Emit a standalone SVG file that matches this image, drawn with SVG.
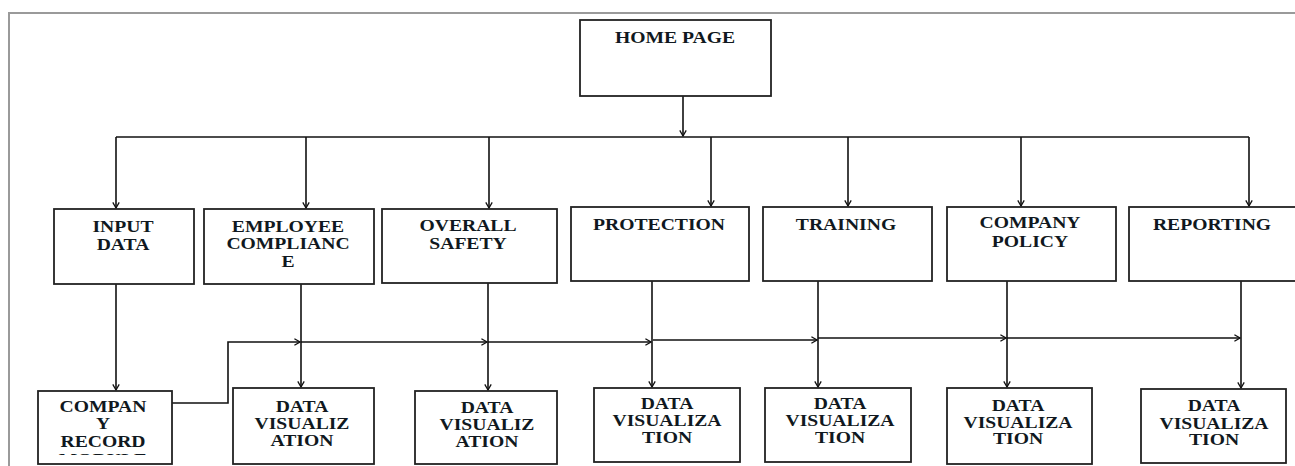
<svg xmlns="http://www.w3.org/2000/svg" width="1295" height="466" viewBox="0 0 1295 466">
  <style>
    .frame { fill: none; stroke: #9a9a9a; stroke-width: 2; }
    .box { fill: #ffffff; stroke: #222222; stroke-width: 1.8; }
    .wire { fill: none; stroke: #111111; stroke-width: 1.6; }
    .arrow { fill: none; stroke: #111111; stroke-width: 1.6; marker-end: url(#head); }
    .lbl { font-family: "Liberation Serif", "Times New Roman", serif; font-weight: bold; font-size: 16.5px; fill: #101820; text-anchor: middle; }
  </style>
  <defs>
    <marker id="head" viewBox="0 0 10 10" refX="9" refY="5" markerWidth="8" markerHeight="8" markerUnits="userSpaceOnUse" orient="auto">
      <path d="M2,1 L9,5 L2,9" fill="none" stroke="#111111" stroke-width="1.6"/>
    </marker>
    <clipPath id="recordClip">
      <rect x="38" y="391" width="134" height="64"/>
    </clipPath>
  </defs>

  <rect width="1295" height="466" fill="#ffffff"/>

  <!-- page frame -->
  <path class="frame" d="M9 466 V13 H1295"/>

  <!-- connectors -->
  <g id="connectors">
    <path class="arrow" d="M683 96 V136"/>
    <path class="wire" d="M116 137 H1249"/>
    <path class="arrow" d="M116 137 V208"/>
    <path class="arrow" d="M306 137 V208"/>
    <path class="arrow" d="M489 137 V208"/>
    <path class="arrow" d="M711 137 V206"/>
    <path class="arrow" d="M848 137 V206"/>
    <path class="arrow" d="M1021 137 V206"/>
    <path class="arrow" d="M1249 137 V206"/>

    <path class="arrow" d="M116 284 V390"/>
    <path class="arrow" d="M301 284 V387"/>
    <path class="arrow" d="M488 283 V390"/>
    <path class="arrow" d="M652 281 V387"/>
    <path class="arrow" d="M818 281 V387"/>
    <path class="arrow" d="M1007 281 V387"/>
    <path class="arrow" d="M1241 281 V388"/>

    <path class="arrow" d="M172 403 H228 V342 H300"/>
    <path class="arrow" d="M301 342 H487"/>
    <path class="arrow" d="M488 342 H651"/>
    <path class="arrow" d="M653 340 H817"/>
    <path class="arrow" d="M818 338 H1006"/>
    <path class="arrow" d="M1007 338 H1240"/>
  </g>

  <!-- top level -->
  <g id="home-page">
    <rect class="box" x="580" y="20" width="191" height="76"/>
    <text class="lbl" transform="translate(675 43) scale(1.19 1)">HOME PAGE</text>
  </g>

  <!-- second level -->
  <g id="input-data">
    <rect class="box" x="54" y="209" width="140" height="75"/>
    <text class="lbl" transform="translate(123 232) scale(1.19 1)">INPUT</text>
    <text class="lbl" transform="translate(123 250) scale(1.19 1)">DATA</text>
  </g>
  <g id="employee-compliance">
    <rect class="box" x="204" y="209" width="170" height="75"/>
    <text class="lbl" transform="translate(288 232) scale(1.19 1)">EMPLOYEE</text>
    <text class="lbl" transform="translate(288 249) scale(1.19 1)">COMPLIANC</text>
    <text class="lbl" transform="translate(288 267) scale(1.19 1)">E</text>
  </g>
  <g id="overall-safety">
    <rect class="box" x="382" y="209" width="175" height="74"/>
    <text class="lbl" transform="translate(468 231) scale(1.19 1)">OVERALL</text>
    <text class="lbl" transform="translate(468 249) scale(1.19 1)">SAFETY</text>
  </g>
  <g id="protection">
    <rect class="box" x="571" y="207" width="178" height="74"/>
    <text class="lbl" transform="translate(659 230) scale(1.19 1)">PROTECTION</text>
  </g>
  <g id="training">
    <rect class="box" x="763" y="207" width="169" height="74"/>
    <text class="lbl" transform="translate(846 230) scale(1.19 1)">TRAINING</text>
  </g>
  <g id="company-policy">
    <rect class="box" x="947" y="207" width="169" height="74"/>
    <text class="lbl" transform="translate(1030 228) scale(1.19 1)">COMPANY</text>
    <text class="lbl" transform="translate(1030 247) scale(1.19 1)">POLICY</text>
  </g>
  <g id="reporting">
    <rect class="box" x="1129" y="207" width="172" height="74"/>
    <text class="lbl" transform="translate(1212 230) scale(1.19 1)">REPORTING</text>
  </g>

  <!-- third level -->
  <g id="company-record-module">
    <rect class="box" x="38" y="391" width="134" height="73"/>
    <g clip-path="url(#recordClip)">
      <text class="lbl" transform="translate(103 412) scale(1.19 1)">COMPAN</text>
      <text class="lbl" transform="translate(103 429) scale(1.19 1)">Y</text>
      <text class="lbl" transform="translate(103 447) scale(1.19 1)">RECORD</text>
      <text class="lbl" transform="translate(103 465) scale(1.19 1)">MODULE</text>
    </g>
  </g>
  <g id="data-visualization-1">
    <rect class="box" x="233" y="388" width="141" height="76"/>
    <text class="lbl" transform="translate(302 412) scale(1.19 1)">DATA</text>
    <text class="lbl" transform="translate(302 429) scale(1.19 1)">VISUALIZ</text>
    <text class="lbl" transform="translate(302 446) scale(1.19 1)">ATION</text>
  </g>
  <g id="data-visualization-2">
    <rect class="box" x="415" y="391" width="142" height="73"/>
    <text class="lbl" transform="translate(487 413) scale(1.19 1)">DATA</text>
    <text class="lbl" transform="translate(487 430) scale(1.19 1)">VISUALIZ</text>
    <text class="lbl" transform="translate(487 447) scale(1.19 1)">ATION</text>
  </g>
  <g id="data-visualization-3">
    <rect class="box" x="594" y="388" width="146" height="74"/>
    <text class="lbl" transform="translate(667 409) scale(1.19 1)">DATA</text>
    <text class="lbl" transform="translate(667 426) scale(1.19 1)">VISUALIZA</text>
    <text class="lbl" transform="translate(667 443) scale(1.19 1)">TION</text>
  </g>
  <g id="data-visualization-4">
    <rect class="box" x="765" y="388" width="146" height="74"/>
    <text class="lbl" transform="translate(840 409) scale(1.19 1)">DATA</text>
    <text class="lbl" transform="translate(840 426) scale(1.19 1)">VISUALIZA</text>
    <text class="lbl" transform="translate(840 443) scale(1.19 1)">TION</text>
  </g>
  <g id="data-visualization-5">
    <rect class="box" x="947" y="388" width="145" height="76"/>
    <text class="lbl" transform="translate(1018 411) scale(1.19 1)">DATA</text>
    <text class="lbl" transform="translate(1018 428) scale(1.19 1)">VISUALIZA</text>
    <text class="lbl" transform="translate(1018 444) scale(1.19 1)">TION</text>
  </g>
  <g id="data-visualization-6">
    <rect class="box" x="1141" y="389" width="145" height="74"/>
    <text class="lbl" transform="translate(1214 411) scale(1.19 1)">DATA</text>
    <text class="lbl" transform="translate(1214 429) scale(1.19 1)">VISUALIZA</text>
    <text class="lbl" transform="translate(1214 445) scale(1.19 1)">TION</text>
  </g>
</svg>
